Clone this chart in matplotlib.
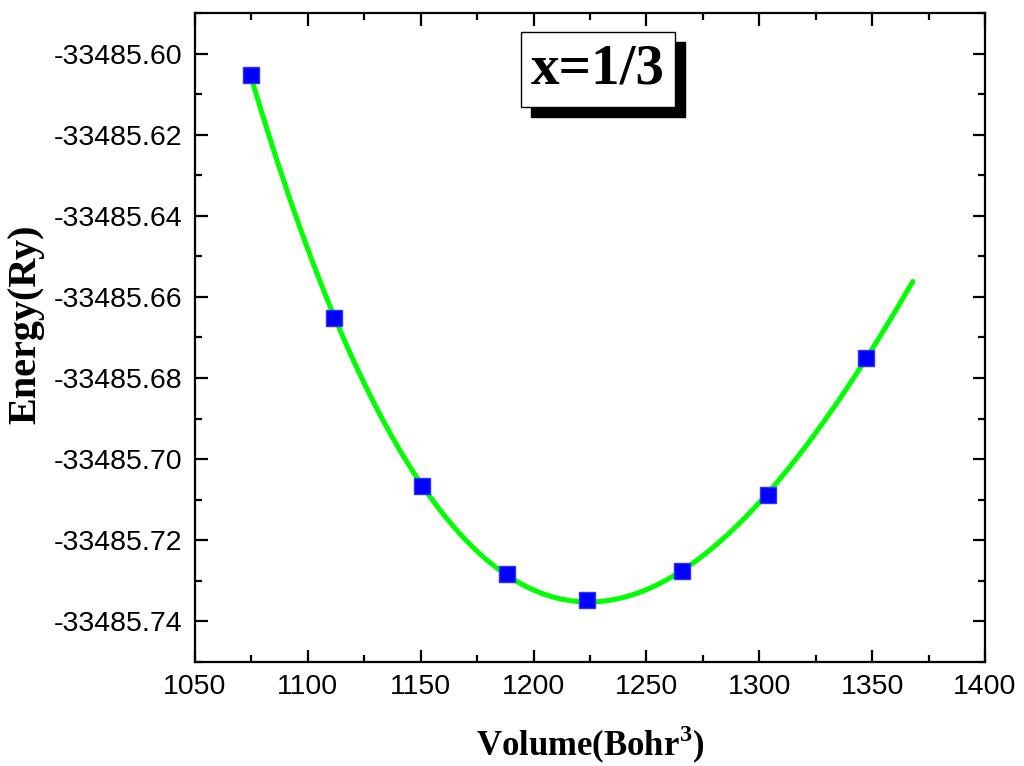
import numpy as np
import matplotlib.pyplot as plt
from matplotlib.ticker import MultipleLocator, FormatStrFormatter
from matplotlib.patches import Rectangle

# data
volume = np.array([1074.8, 1111.6, 1150.6, 1188.2, 1223.7, 1265.8, 1303.9, 1347.3])
energy = np.array([-33485.6054, -33485.6652, -33485.7065, -33485.7284,
                   -33485.7348, -33485.7275, -33485.7088, -33485.6750])
v_end = 1368.0
label = 'x=1/3'

plt.rcParams['mathtext.fontset'] = 'custom'
plt.rcParams['mathtext.bf'] = 'Liberation Serif:bold'
plt.rcParams['mathtext.rm'] = 'Liberation Serif:bold'

# fitted E(V) curve (cubic)
coef = np.polyfit(volume, energy, 3)
vfit = np.linspace(volume[0], v_end, 300)
efit = np.polyval(coef, vfit)

fig = plt.figure(figsize=(10.24, 7.66), dpi=100)
ax = fig.add_axes([0.1904, 0.1358, 0.7715, 0.8472])

ax.plot(vfit, efit, color='#00ff00', lw=3.6, solid_capstyle='round', zorder=2)
ax.plot(volume, energy, 's', color='#0000ff', mec='#3030ff', ms=11, zorder=3)

ax.set_xlim(1050, 1400)
ax.set_ylim(-33485.75, -33485.59)
ax.xaxis.set_major_locator(MultipleLocator(50))
ax.xaxis.set_minor_locator(MultipleLocator(25))
ax.yaxis.set_major_locator(MultipleLocator(0.02))
ax.yaxis.set_minor_locator(MultipleLocator(0.01))
ax.yaxis.set_major_formatter(FormatStrFormatter('%.2f'))

ax.tick_params(which='both', direction='in', top=True, right=True, width=1.6)
ax.tick_params(which='major', length=9, labelsize=20.5, pad=9)
ax.tick_params(which='minor', length=5)
for lab in ax.get_xticklabels() + ax.get_yticklabels():
    lab.set_family('Liberation Sans')
for s in ax.spines.values():
    s.set_linewidth(1.6)

ax.set_xlabel('Volume(Bohr$^{\\mathbf{3}}$)', family='Liberation Serif',
              fontweight='bold', fontsize=25, labelpad=17)
ax.set_ylabel('Energy(Ry)', family='Liberation Serif', fontweight='bold',
              fontsize=29)
ax.yaxis.set_label_coords(-0.19, 0.52)

# label box with drop shadow
bx, by, bw, bh = 0.4127, 0.855, 0.195, 0.1156
ax.add_patch(Rectangle((bx + 0.0125, by - 0.0155), bw, bh, transform=ax.transAxes,
                       facecolor='black', edgecolor='black', zorder=4))
ax.add_patch(Rectangle((bx, by), bw, bh, transform=ax.transAxes,
                       facecolor='white', edgecolor='black', lw=1, zorder=5))
ax.text(bx + bw / 2, by + bh / 2, label, transform=ax.transAxes, ha='center',
        va='center', family='Liberation Serif', fontweight='bold', fontsize=41,
        zorder=6)

fig.savefig('out.png', dpi=100)
